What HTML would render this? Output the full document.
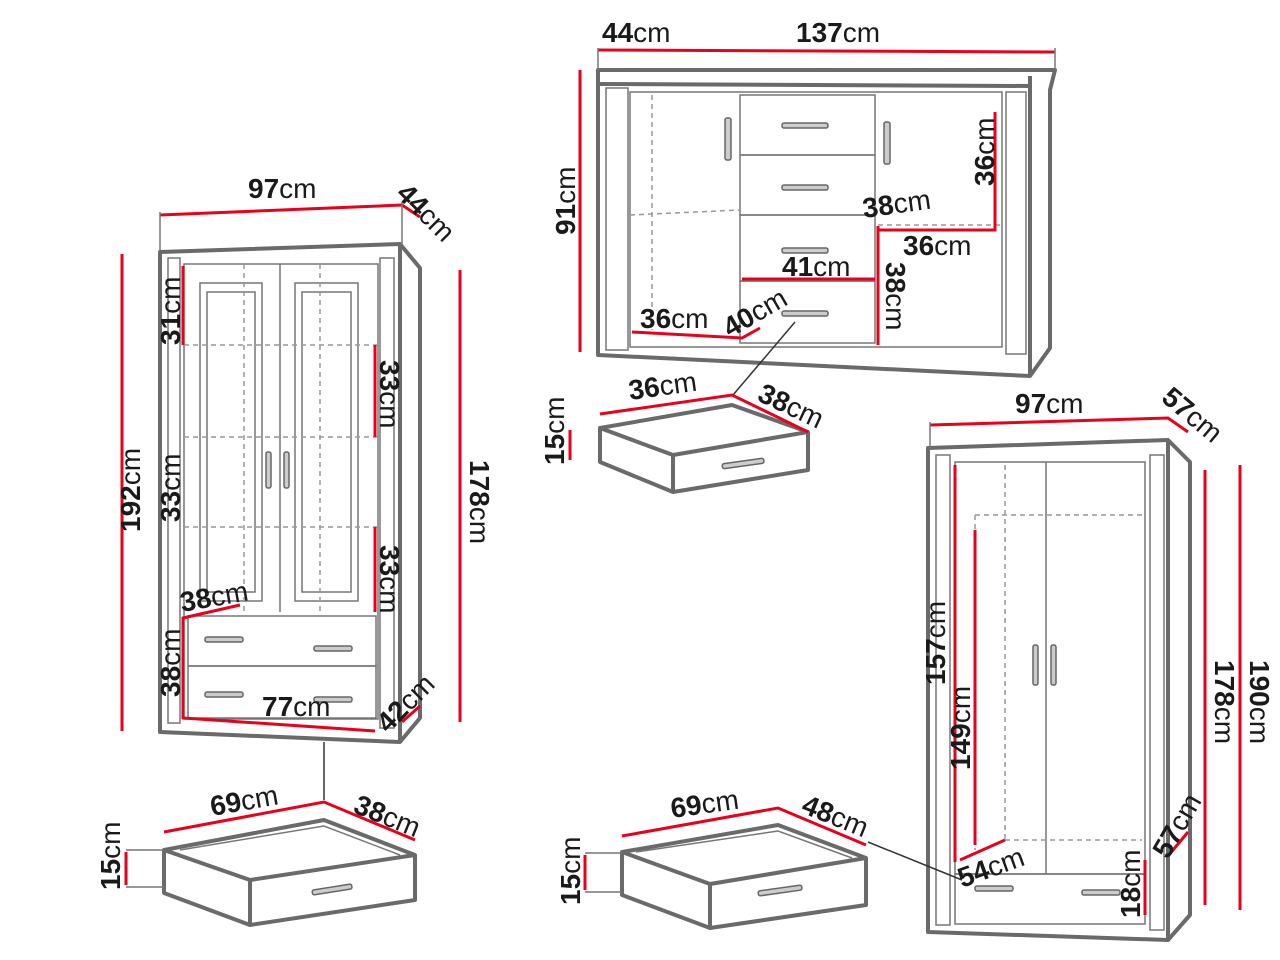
<!DOCTYPE html>
<html><head><meta charset="utf-8"><style>
html,body{margin:0;padding:0;background:#fff;width:1280px;height:960px;overflow:hidden}
svg{display:block}
text{font-family:"Liberation Sans",sans-serif;font-size:28px;fill:#1a1a1a}
.b{font-weight:bold}
.g{fill:none;stroke:#6a6a6a;stroke-width:4;stroke-linejoin:round}
.t{fill:none;stroke:#777;stroke-width:1.5}
.d{fill:none;stroke:#999;stroke-width:1.5;stroke-dasharray:5 4}
.r{fill:none;stroke:#e8001c;stroke-width:3}
.h{fill:#ccc;stroke:#666;stroke-width:1.5}
</style></head><body>
<svg width="1280" height="960" viewBox="0 0 1280 960">
<!-- LEFT CABINET -->
<polygon class="g" points="160,252 400,244 420,268 420,718 400,742 160,732"/>
<line class="g" x1="400" y1="244" x2="400" y2="742"/>
<rect class="t" x="168" y="258" width="12" height="465"/>
<rect class="t" x="380" y="258" width="14" height="470"/>
<rect class="t" x="184" y="264" width="194" height="455"/>
<rect class="t" x="200" y="283" width="62" height="318"/>
<rect class="t" x="207" y="292" width="48" height="300"/>
<rect class="t" x="295" y="283" width="63" height="318"/>
<rect class="t" x="302" y="292" width="49" height="300"/>
<line class="t" x1="280" y1="264" x2="280" y2="612"/>
<line class="d" x1="184" y1="345" x2="378" y2="345"/>
<line class="d" x1="184" y1="437" x2="378" y2="437"/>
<line class="d" x1="184" y1="527" x2="378" y2="527"/>
<line class="d" x1="244" y1="264" x2="244" y2="612"/>
<line class="d" x1="320" y1="264" x2="320" y2="612"/>
<rect class="t" x="188" y="616" width="188" height="50"/>
<rect class="t" x="188" y="666" width="188" height="52"/>
<rect class="h" x="266" y="452" width="5" height="36" rx="2"/>
<rect class="h" x="284" y="452" width="5" height="36" rx="2"/>
<rect class="h" x="205" y="637" width="38" height="5" rx="2"/>
<rect class="h" x="314" y="646" width="38" height="5" rx="2"/>
<rect class="h" x="205" y="692" width="38" height="5" rx="2"/>
<rect class="h" x="314" y="697" width="38" height="5" rx="2"/>
<line class="t" x1="324" y1="742" x2="324" y2="800" style="stroke:#333"/>
<!-- left dims -->
<polyline class="r" points="160,215 402,205 420,217"/>
<line class="t" x1="160" y1="212" x2="160" y2="250"/><line class="t" x1="402" y1="202" x2="402" y2="245"/>
<line class="r" x1="122" y1="254" x2="122" y2="731"/>
<line class="r" x1="460" y1="270" x2="460" y2="722"/>
<line class="r" x1="183" y1="266" x2="183" y2="345"/>
<line class="r" x1="375" y1="345" x2="375" y2="437"/>
<line class="r" x1="375" y1="527" x2="375" y2="612"/>
<polyline class="r" points="240,605 183,618 183,718 375,731"/>
<line class="r" x1="402" y1="722" x2="420" y2="706"/>
<text x="248" y="198"><tspan class="b">97</tspan>cm</text>
<text transform="translate(395,195) rotate(45)"><tspan class="b">44</tspan>cm</text>
<text transform="translate(140,532) rotate(-90)"><tspan class="b">192</tspan>cm</text>
<text transform="translate(470,460) rotate(90)"><tspan class="b">178</tspan>cm</text>
<text transform="translate(180,345) rotate(-90)"><tspan class="b">31</tspan>cm</text>
<text transform="translate(380,360) rotate(90)"><tspan class="b">33</tspan>cm</text>
<text transform="translate(180,522) rotate(-90)"><tspan class="b">33</tspan>cm</text>
<text transform="translate(380,545) rotate(90)"><tspan class="b">33</tspan>cm</text>
<text transform="translate(182,612) rotate(-10)"><tspan class="b">38</tspan>cm</text>
<text transform="translate(180,697) rotate(-90)"><tspan class="b">38</tspan>cm</text>
<text x="262" y="716"><tspan class="b">77</tspan>cm</text>
<text transform="translate(388,734) rotate(-45)"><tspan class="b">42</tspan>cm</text>
<!-- left drawer -->
<polygon class="g" points="164,850 324,820 415,855 415,900 250,925 164,893"/>
<polyline class="g" points="164,850 250,880 415,855"/>
<line class="g" x1="250" y1="880" x2="250" y2="925"/>
<polyline class="t" points="180,850 324,826 400,855"/>
<rect class="h" x="312" y="887" width="40" height="5" rx="2" transform="rotate(-9 332 889)"/>
<polyline class="r" points="164,832 324,802 415,840"/>
<line class="r" x1="126" y1="852" x2="126" y2="885"/>
<line class="t" x1="126" y1="850" x2="164" y2="850"/><line class="t" x1="126" y1="887" x2="164" y2="887"/>
<text transform="translate(212,816) rotate(-10)"><tspan class="b">69</tspan>cm</text>
<text transform="translate(352,812) rotate(22)"><tspan class="b">38</tspan>cm</text>
<text transform="translate(120,890) rotate(-90)"><tspan class="b">15</tspan>cm</text>

<!-- SIDEBOARD -->
<polygon class="g" points="598,70 1055,70 1050,90 1050,348 1030,376 598,355"/>
<line class="g" x1="598" y1="84" x2="1030" y2="86"/>
<line class="g" x1="1030" y1="76" x2="1030" y2="376"/>
<rect class="t" x="606" y="88" width="22" height="262"/>
<rect class="t" x="1006" y="92" width="20" height="262"/>
<rect class="t" x="630" y="92" width="372" height="255"/>
<rect class="t" x="740" y="95" width="135" height="60"/>
<rect class="t" x="740" y="155" width="135" height="60"/>
<rect class="t" x="740" y="215" width="135" height="66"/>
<rect class="t" x="740" y="281" width="135" height="62"/>
<line class="d" x1="630" y1="215" x2="740" y2="210"/>
<line class="d" x1="878" y1="225" x2="1002" y2="225"/>
<line class="d" x1="652" y1="95" x2="652" y2="330"/>
<rect class="h" x="725" y="118" width="6" height="42" rx="2"/>
<rect class="h" x="884" y="122" width="6" height="42" rx="2"/>
<rect class="h" x="782" y="123" width="46" height="5" rx="2"/>
<rect class="h" x="782" y="185" width="46" height="5" rx="2"/>
<rect class="h" x="782" y="248" width="46" height="5" rx="2"/>
<rect class="h" x="782" y="311" width="46" height="5" rx="2"/>
<polyline class="r" points="598,50 1055,52"/>
<line class="t" x1="598" y1="48" x2="598" y2="70"/><line class="t" x1="1055" y1="48" x2="1055" y2="70"/>
<line class="r" x1="580" y1="70" x2="580" y2="352"/>
<polyline class="r" points="995,112 995,230 878,230"/>
<polyline class="r" points="878,226 878,345"/>
<line class="r" x1="742" y1="279" x2="875" y2="279"/>
<polyline class="r" points="632,332 742,338 760,328"/>
<line class="t" x1="795" y1="322" x2="733" y2="395" style="stroke:#333"/>
<text x="602" y="42"><tspan class="b">44</tspan>cm</text>
<text x="796" y="42"><tspan class="b">137</tspan>cm</text>
<text transform="translate(575,235) rotate(-90)"><tspan class="b">91</tspan>cm</text>
<text transform="translate(994,186) rotate(-90)"><tspan class="b">36</tspan>cm</text>
<text transform="translate(864,218) rotate(-8)"><tspan class="b">38</tspan>cm</text>
<text x="903" y="255"><tspan class="b">36</tspan>cm</text>
<text x="782" y="276"><tspan class="b">41</tspan>cm</text>
<text transform="translate(886,262) rotate(90)"><tspan class="b">38</tspan>cm</text>
<text x="640" y="328"><tspan class="b">36</tspan>cm</text>
<text transform="translate(730,338) rotate(-30)"><tspan class="b">40</tspan>cm</text>
<!-- sideboard drawer -->
<polygon class="g" points="600,428 732,405 808,432 808,470 673,492 600,462"/>
<polyline class="g" points="600,428 673,455 808,432"/>
<line class="g" x1="673" y1="455" x2="673" y2="492"/>
<rect class="h" x="722" y="461" width="42" height="5" rx="2" transform="rotate(-8 743 463)"/>
<polyline class="r" points="600,414 732,395 808,432"/>
<line class="r" x1="570" y1="430" x2="570" y2="460"/>
<text transform="translate(630,400) rotate(-8)"><tspan class="b">36</tspan>cm</text>
<text transform="translate(756,400) rotate(25)"><tspan class="b">38</tspan>cm</text>
<text transform="translate(564,465) rotate(-90)"><tspan class="b">15</tspan>cm</text>

<!-- RIGHT WARDROBE -->
<polygon class="g" points="928,448 1168,440 1190,462 1190,915 1168,940 928,932"/>
<line class="g" x1="1168" y1="440" x2="1168" y2="940"/>
<rect class="t" x="936" y="455" width="14" height="470"/>
<rect class="t" x="1150" y="455" width="14" height="475"/>
<rect class="t" x="955" y="462" width="190" height="412"/>
<line class="t" x1="1046" y1="462" x2="1046" y2="874"/>
<line class="d" x1="975" y1="515" x2="1142" y2="515"/>
<line class="d" x1="975" y1="515" x2="975" y2="850"/>
<line class="d" x1="1005" y1="465" x2="1005" y2="840"/>
<line class="d" x1="1005" y1="840" x2="1142" y2="840"/>
<rect class="t" x="955" y="874" width="190" height="50"/>
<rect class="h" x="1033" y="645" width="5" height="40" rx="2"/>
<rect class="h" x="1051" y="645" width="5" height="40" rx="2"/>
<rect class="h" x="975" y="886" width="38" height="5" rx="2"/>
<rect class="h" x="1082" y="890" width="38" height="5" rx="2"/>
<polyline class="r" points="930,425 1168,418 1188,432"/>
<line class="t" x1="930" y1="422" x2="930" y2="448"/>
<line class="r" x1="1240" y1="465" x2="1240" y2="910"/>
<line class="r" x1="1205" y1="470" x2="1205" y2="905"/>
<line class="r" x1="955" y1="465" x2="955" y2="862"/>
<line class="r" x1="975" y1="530" x2="975" y2="845"/>
<line class="r" x1="960" y1="860" x2="1005" y2="840"/>
<line class="r" x1="1145" y1="860" x2="1145" y2="915"/>
<line class="r" x1="1168" y1="856" x2="1188" y2="832"/>
<line class="t" x1="868" y1="842" x2="962" y2="880" style="stroke:#333"/>
<text x="1015" y="413"><tspan class="b">97</tspan>cm</text>
<text transform="translate(1160,400) rotate(40)"><tspan class="b">57</tspan>cm</text>
<text transform="translate(945,685) rotate(-90)"><tspan class="b">157</tspan>cm</text>
<text transform="translate(970,770) rotate(-90)"><tspan class="b">149</tspan>cm</text>
<text transform="translate(1215,660) rotate(90)"><tspan class="b">178</tspan>cm</text>
<text transform="translate(1250,660) rotate(90)"><tspan class="b">190</tspan>cm</text>
<text transform="translate(962,888) rotate(-20)"><tspan class="b">54</tspan>cm</text>
<text transform="translate(1140,918) rotate(-90)"><tspan class="b">18</tspan>cm</text>
<text transform="translate(1168,860) rotate(-60)"><tspan class="b">57</tspan>cm</text>
<!-- bottom middle drawer -->
<polygon class="g" points="622,852 778,825 866,858 866,905 710,928 622,895"/>
<polyline class="g" points="622,852 710,884 866,858"/>
<line class="g" x1="710" y1="884" x2="710" y2="928"/>
<polyline class="t" points="636,852 778,831 852,858"/>
<rect class="h" x="758" y="888" width="44" height="5" rx="2" transform="rotate(-8 780 890)"/>
<polyline class="r" points="622,836 778,808 866,845"/>
<line class="r" x1="585" y1="855" x2="585" y2="890"/>
<line class="t" x1="585" y1="853" x2="622" y2="853"/><line class="t" x1="585" y1="892" x2="622" y2="892"/>
<text transform="translate(672,818) rotate(-8)"><tspan class="b">69</tspan>cm</text>
<text transform="translate(800,812) rotate(22)"><tspan class="b">48</tspan>cm</text>
<text transform="translate(580,905) rotate(-90)"><tspan class="b">15</tspan>cm</text>
</svg>
</body></html>
